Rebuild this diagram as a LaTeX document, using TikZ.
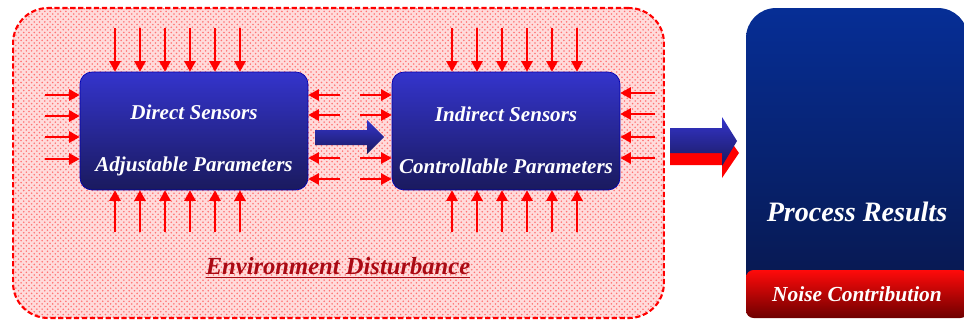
\documentclass[tikz,border=0pt]{standalone}
\usepackage{fontspec}
\setmainfont{Liberation Serif}
\usetikzlibrary{arrows.meta,patterns,positioning}
\definecolor{boxtop}{RGB}{52,52,204}
\definecolor{boxbot}{RGB}{26,26,94}
\definecolor{restop}{RGB}{6,46,150}
\definecolor{resbot}{RGB}{8,22,72}
\definecolor{noisetop}{RGB}{255,10,10}
\definecolor{noisebot}{RGB}{110,0,0}
\definecolor{envtext}{RGB}{170,10,20}

\begin{document}
\begin{tikzpicture}[x=0.02cm,y=-0.02cm,
	sensor/.style={rounded corners=0.24cm,top color=boxtop,bottom color=boxbot,draw=blue!70!black,
		minimum width=4.56cm,minimum height=2.36cm,text=white,align=center,
		font=\bfseries\itshape\fontsize{12}{30}\selectfont},
	dist/.style={red,line width=0.9pt,-{Triangle[length=6pt,width=6.5pt]}}]
	\useasboundingbox (0,0) rectangle (964,325);
	
	\node[draw=red,line width=1.2pt,dash pattern=on 3pt off 1.5pt,rounded corners=0.7cm,
		preaction={fill=red!14},pattern=crosshatch dots,pattern color=red!55,
		minimum width=13.02cm,minimum height=6.2cm] (env) at (338.5,163) {};
	\node[text=envtext,font=\bfseries\itshape\fontsize{14}{16}\selectfont] (envlabel) at (338,268) {\underline{Environment Disturbance}};
	
	\node[sensor] (d) at (194,131) {\rule{0pt}{19pt}Direct Sensors\\Adjustable Parameters};
	\node[sensor] (i) at (506,131) {\rule{0pt}{19pt}Indirect Sensors\\Controllable Parameters};
	
	\foreach \x in {115,140,165,190,215,240} {
		\draw[dist] (\x,28) -- (\x,0 |- d.north);
		\draw[dist] (\x,232) -- (\x,0 |- d.south);
	}
	\foreach \x in {452,477,502,527,552,577} {
		\draw[dist] (\x,28) -- (\x,0 |- i.north);
		\draw[dist] (\x,232) -- (\x,0 |- i.south);
	}
	\foreach \y in {95,116,137,159}
		\draw[dist] (45,\y) -- (d.west |- 0,\y);
	\foreach \y in {95,115,158,179} {
		\draw[dist] (340,\y) -- (d.east |- 0,\y);
		\draw[dist] (360,\y) -- (i.west |- 0,\y);
	}
	\foreach \y in {93,114,137,158}
		\draw[dist] (655,\y) -- (i.east |- 0,\y);
	
	\shade[top color=boxtop,bottom color=boxbot] (315,130) -- (367,130) -- (367,120) -- (384,137)
		-- (367,154) -- (367,145) -- (315,145) -- cycle;
	
	\node[rounded corners=0.6cm,top color=restop,bottom color=resbot,minimum width=4.44cm,minimum height=6.2cm] (res) at (857,163) {};
	\node[rounded corners=0.15cm,top color=noisetop,bottom color=noisebot,minimum width=4.44cm,minimum height=0.96cm,
		text=white,font=\bfseries\itshape\fontsize{12.2}{14}\selectfont] (noise) at (857,294) {Noise Contribution};
	\node[text=white,font=\bfseries\itshape\fontsize{16}{18}\selectfont] (reslabel) at (857,212) {Process Results};
	
	\fill[red] (670,140) -- (722,140) -- (722,129) -- (739,153) -- (722,178) -- (722,165) -- (670,165) -- cycle;
	\shade[top color=boxtop,bottom color=boxbot] (670,128) -- (722,128) -- (722,117) -- (737,141)
		-- (722,166) -- (722,153) -- (670,153) -- cycle;
\end{tikzpicture}
\end{document}
